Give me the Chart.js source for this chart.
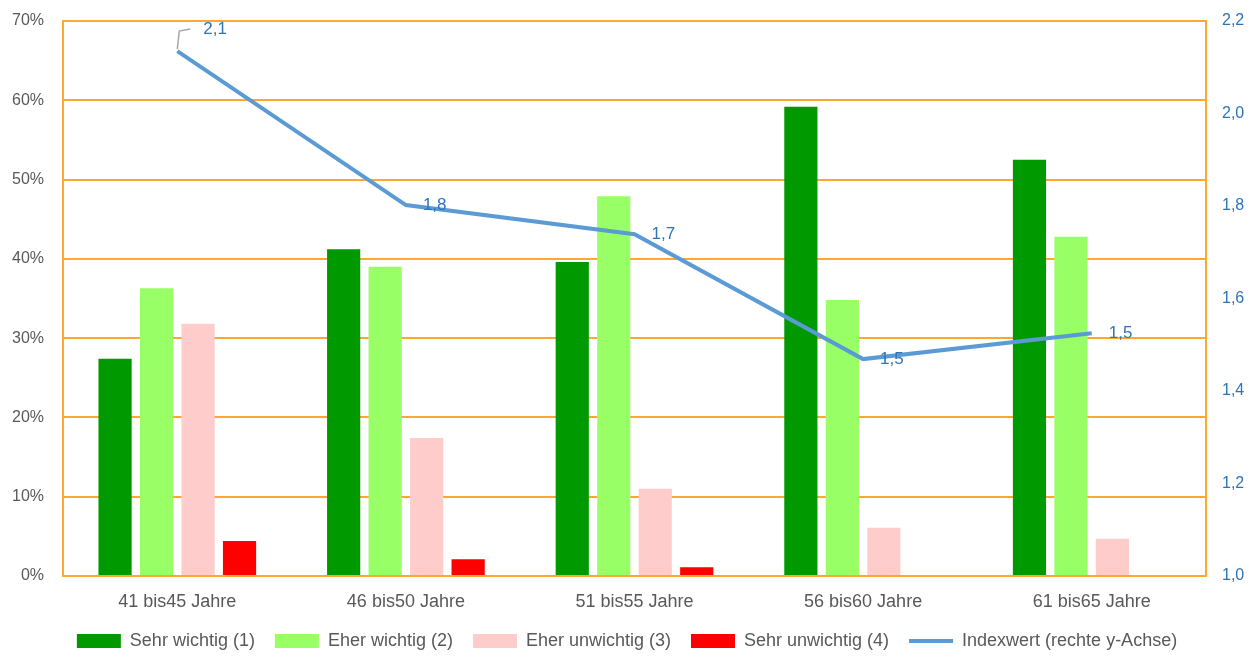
<!DOCTYPE html>
<html>
<head>
<meta charset="utf-8">
<script src="https://cdn.jsdelivr.net/npm/chart.js@4"></script>
<style>
html,body{margin:0;padding:0;background:#fff;}
#wrap{width:1254px;height:657px;position:relative;}
</style>
</head>
<body>
<div id="wrap"><canvas id="c" width="1254" height="657"></canvas></div>
<script>
const categories = ["41 bis45 Jahre", "46 bis50 Jahre", "51 bis55 Jahre", "56 bis60 Jahre", "61 bis65 Jahre"];
const sehrWichtig = [27.4, 41.2, 39.6, 59.2, 52.5];
const eherWichtig = [36.3, 39.0, 47.9, 34.8, 42.8];
const eherUnwichtig = [31.8, 17.4, 11.0, 6.1, 4.7];
const sehrUnwichtig = [4.4, 2.1, 1.1, 0, 0];
const indexwert = [2.135, 1.802, 1.739, 1.469, 1.525];
const indexLabels = ["2,1", "1,8", "1,7", "1,5", "1,5"];
const seriesNames = ["Sehr wichtig (1)", "Eher wichtig (2)", "Eher unwichtig (3)", "Sehr unwichtig (4)", "Indexwert (rechte y-Achse)"];

const ORANGE = '#FFA733';
const GREY = '#595959';
const BLUE_TXT = '#2E75B6';
const FONT = "'Liberation Sans', Arial, sans-serif";

const labelPlugin = {
  id: 'indexLabels',
  afterDatasetsDraw(chart) {
    const meta = chart.getDatasetMeta(0);
    const ctx = chart.ctx;
    ctx.save();
    ctx.font = '17px ' + FONT;
    ctx.fillStyle = BLUE_TXT;
    ctx.textBaseline = 'middle';
    ctx.textAlign = 'left';
    meta.data.forEach((pt, i) => {
      const x = pt.x, y = pt.y;
      if (i === 0) {
        ctx.strokeStyle = '#A6A6A6';
        ctx.lineWidth = 1.5;
        ctx.beginPath();
        ctx.moveTo(x, y - 2);
        ctx.lineTo(x + 2, y - 20);
        ctx.lineTo(x + 13, y - 22);
        ctx.stroke();
        ctx.fillText(indexLabels[i], x + 26, y - 22);
      } else {
        ctx.fillText(indexLabels[i], x + 17, y);
      }
    });
    ctx.restore();
  }
};

function fixV(w) {
  return function (s) { s.width = w; s.paddingTop = 0; s.paddingBottom = 0; };
}

new Chart(document.getElementById('c'), {
  data: {
    labels: categories,
    datasets: [
      {type: 'line', label: seriesNames[4], data: indexwert, yAxisID: 'y1', borderColor: '#5B9BD5', backgroundColor: '#5B9BD5', borderWidth: 4, pointRadius: 0, pointStyle: 'line', tension: 0, order: 0},
      {type: 'bar', label: seriesNames[0], data: sehrWichtig, backgroundColor: '#009900', yAxisID: 'y', pointStyle: 'rect', borderWidth: 0, order: 1},
      {type: 'bar', label: seriesNames[1], data: eherWichtig, backgroundColor: '#99FF66', yAxisID: 'y', pointStyle: 'rect', borderWidth: 0, order: 1},
      {type: 'bar', label: seriesNames[2], data: eherUnwichtig, backgroundColor: '#FFCCCC', yAxisID: 'y', pointStyle: 'rect', borderWidth: 0, order: 1},
      {type: 'bar', label: seriesNames[3], data: sehrUnwichtig, backgroundColor: '#FF0000', yAxisID: 'y', pointStyle: 'rect', borderWidth: 0, order: 1}
    ]
  },
  options: {
    responsive: false,
    animation: false,
    maintainAspectRatio: false,
    layout: {autoPadding: false, padding: {top: 21, left: 0, right: 0, bottom: 0}},
    datasets: {bar: {categoryPercentage: 0.726, barPercentage: 0.8}},
    plugins: {
      tooltip: {enabled: false},
      legend: {
        position: 'bottom',
        maxHeight: 45,
        labels: {
          font: {size: 18, family: FONT},
          color: GREY,
          usePointStyle: true,
          pointStyleWidth: 44,
          boxHeight: 14,
          padding: 20,
          sort: (a, b) => {
            const ord = [1, 2, 3, 4, 0];
            return ord.indexOf(a.datasetIndex) - ord.indexOf(b.datasetIndex);
          }
        }
      }
    },
    scales: {
      x: {
        grid: {display: false, drawTicks: false},
        border: {display: true, color: ORANGE, width: 2},
        ticks: {color: GREY, font: {size: 18, family: FONT}, padding: 15},
        afterFit(s) { s.height = 36; s.paddingLeft = 0; s.paddingRight = 0; }
      },
      y: {
        position: 'left',
        min: 0, max: 70,
        ticks: {stepSize: 10, color: GREY, font: {size: 16, family: FONT}, padding: 19, callback: v => v + '%'},
        grid: {color: ORANGE, lineWidth: 2, drawTicks: false},
        border: {display: true, color: ORANGE, width: 2},
        afterFit: fixV(63)
      },
      y1: {
        position: 'right',
        min: 1.0, max: 2.2,
        ticks: {stepSize: 0.2, color: BLUE_TXT, font: {size: 16, family: FONT}, padding: 16,
          callback: v => Number(v).toFixed(1).replace('.', ',')},
        grid: {drawOnChartArea: false, drawTicks: false},
        border: {display: true, color: ORANGE, width: 2},
        afterFit: fixV(48)
      }
    }
  },
  plugins: [labelPlugin]
});
</script>
</body>
</html>
